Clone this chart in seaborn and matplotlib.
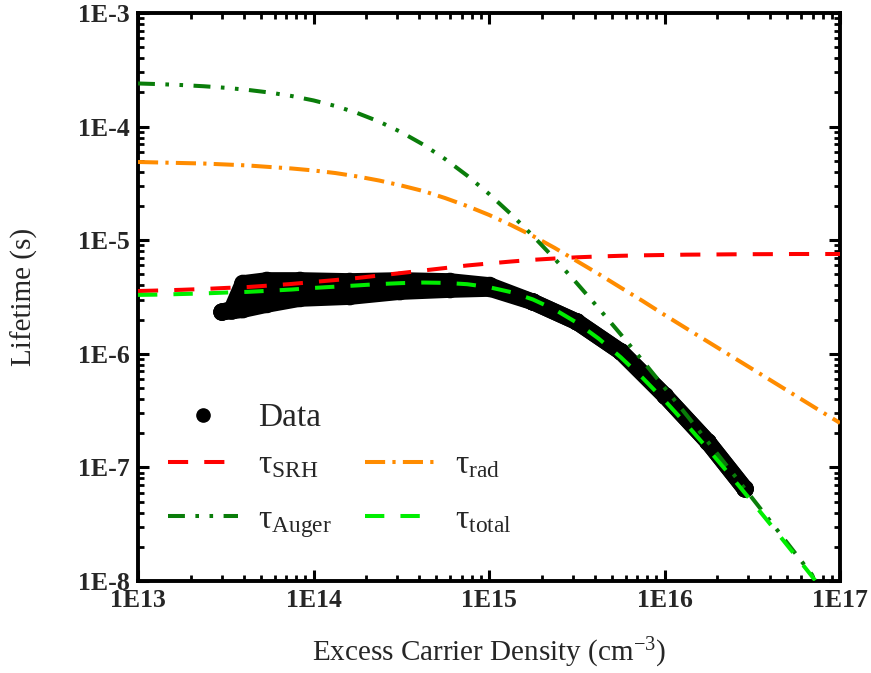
import numpy as np
import pandas as pd
import matplotlib
matplotlib.use("Agg")
import matplotlib.pyplot as plt
import seaborn as sns
from matplotlib.lines import Line2D
from matplotlib.ticker import LogLocator, FuncFormatter, NullFormatter

# ---------------- data ----------------
curve_x = [1.000e13, 1.334e13, 1.778e13, 2.371e13, 3.162e13, 4.217e13, 5.623e13, 7.499e13,
           1.000e14, 1.334e14, 1.778e14, 2.371e14, 3.162e14, 4.217e14, 5.623e14, 7.499e14,
           1.000e15, 1.334e15, 1.778e15, 2.371e15, 3.162e15, 4.217e15, 5.623e15, 7.499e15,
           1.000e16, 1.334e16, 1.778e16, 2.371e16, 3.162e16, 4.217e16, 5.623e16, 7.499e16,
           1.000e17]
tau_srh = [3.57e-6, 3.61e-6, 3.66e-6, 3.72e-6, 3.80e-6, 3.87e-6, 3.99e-6, 4.12e-6,
           4.29e-6, 4.46e-6, 4.65e-6, 4.89e-6, 5.14e-6, 5.41e-6, 5.69e-6, 5.99e-6,
           6.24e-6, 6.49e-6, 6.72e-6, 6.90e-6, 7.07e-6, 7.19e-6, 7.29e-6, 7.36e-6,
           7.41e-6, 7.46e-6, 7.48e-6, 7.51e-6, 7.53e-6, 7.54e-6, 7.56e-6, 7.56e-6,
           7.56e-6]
tau_rad = [4.88e-5, 4.83e-5, 4.78e-5, 4.73e-5, 4.64e-5, 4.55e-5, 4.41e-5, 4.28e-5,
           4.11e-5, 3.90e-5, 3.64e-5, 3.35e-5, 3.03e-5, 2.71e-5, 2.35e-5, 2.00e-5,
           1.67e-5, 1.36e-5, 1.09e-5, 8.54e-6, 6.56e-6, 5.04e-6, 3.83e-6, 2.92e-6,
           2.20e-6, 1.67e-6, 1.27e-6, 9.66e-7, 7.35e-7, 5.59e-7, 4.25e-7, 3.23e-7,
           2.46e-7]
tau_auger = [2.397e-4, 2.364e-4, 2.321e-4, 2.266e-4, 2.195e-4, 2.105e-4, 1.994e-4, 1.859e-4,
             1.700e-4, 1.517e-4, 1.316e-4, 1.105e-4, 8.93e-5, 6.95e-5, 5.18e-5, 3.71e-5,
             2.556e-5, 1.697e-5, 1.093e-5, 6.84e-6, 4.19e-6, 2.514e-6, 1.488e-6, 8.70e-7,
             5.04e-7, 2.896e-7, 1.658e-7, 9.45e-8, 5.36e-8, 3.04e-8, 1.718e-8, 9.70e-9,
             5.47e-9]
tau_total = [3.30e-6, 3.32e-6, 3.36e-6, 3.40e-6, 3.46e-6, 3.51e-6, 3.59e-6, 3.68e-6,
             3.80e-6, 3.90e-6, 4.00e-6, 4.11e-6, 4.19e-6, 4.24e-6, 4.21e-6, 4.10e-6,
             3.86e-6, 3.49e-6, 3.01e-6, 2.45e-6, 1.88e-6, 1.36e-6, 9.34e-7, 6.14e-7,
             3.89e-7, 2.39e-7, 1.438e-7, 8.51e-8, 4.96e-8, 2.87e-8, 1.648e-8, 9.41e-9,
             5.35e-9]

# measured lifetime: upper / lower edge of the point cloud (point centres)
data_x = [3.01e13, 3.43e13, 3.96e13, 5.43e13, 8.38e13, 1.61e14, 3.11e14, 6.00e14,
          1.01e15, 1.78e15, 3.17e15, 5.65e15, 1.01e16, 1.77e16, 2.88e16]
data_hi = [2.33e-6, 2.48e-6, 4.16e-6, 4.42e-6, 4.42e-6, 4.33e-6, 4.42e-6, 4.33e-6,
           3.99e-6, 2.86e-6, 1.91e-6, 1.04e-6, 4.25e-7, 1.67e-7, 6.46e-8]
data_lo = [2.33e-6, 2.38e-6, 2.45e-6, 2.72e-6, 3.07e-6, 3.19e-6, 3.53e-6, 3.68e-6,
           3.76e-6, 2.86e-6, 1.91e-6, 1.04e-6, 4.25e-7, 1.67e-7, 6.46e-8]

x_ticks = [1e13, 1e14, 1e15, 1e16, 1e17]
y_ticks = [1e-8, 1e-7, 1e-6, 1e-5, 1e-4, 1e-3]

# ---------------- style ----------------
sns.set_theme(style="ticks")
plt.rcParams["font.family"] = ["Liberation Serif", "DejaVu Serif"]
plt.rcParams["mathtext.fontset"] = "custom"
plt.rcParams["mathtext.rm"] = "Liberation Serif"
plt.rcParams["mathtext.it"] = "Liberation Serif:italic"
plt.rcParams["mathtext.bf"] = "Liberation Serif:bold"

fig = plt.figure(figsize=(8.71, 6.73), dpi=100)
ax = fig.add_axes([138 / 871, 1 - 581 / 673, (840 - 138) / 871, (581 - 13) / 673])

C_SRH = "#FF0000"
C_RAD = "#FF8C00"
C_AUG = "#0A7D0A"
C_TOT = "#00EE00"
LW = 2.9

# data cloud
df_data = pd.DataFrame({"x": data_x, "hi": data_hi, "lo": data_lo})
ax.fill_between(df_data["x"], df_data["lo"], df_data["hi"], color="black", lw=0, zorder=2)
for col in ["hi", "lo"]:
    sns.lineplot(data=df_data, x="x", y=col, ax=ax, color="black", linewidth=12,
                 solid_capstyle="round", solid_joinstyle="round", zorder=2, legend=False)
    sns.scatterplot(data=df_data, x="x", y=col, ax=ax, color="black", s=160,
                    edgecolor="none", zorder=2, legend=False)

curves = pd.DataFrame({"x": curve_x, "srh": tau_srh, "rad": tau_rad,
                       "aug": tau_auger, "tot": tau_total})
ls_srh = (0, (5.0, 4.0))
ls_rad = (0, (5.0, 1.8, 0.8, 1.8))
ls_aug = (0, (4.2, 2.6, 0.9, 2.6, 0.9, 2.6))
ls_tot = (0, (4.8, 4.0))
sns.lineplot(data=curves, x="x", y="srh", ax=ax, color=C_SRH, linewidth=LW,
             linestyle=ls_srh, zorder=3, legend=False)
sns.lineplot(data=curves, x="x", y="rad", ax=ax, color=C_RAD, linewidth=LW,
             linestyle=ls_rad, zorder=3, legend=False)
sns.lineplot(data=curves, x="x", y="aug", ax=ax, color=C_AUG, linewidth=LW,
             linestyle=ls_aug, zorder=4, legend=False)
sns.lineplot(data=curves, x="x", y="tot", ax=ax, color=C_TOT, linewidth=LW,
             linestyle=ls_tot, zorder=5, legend=False)

ax.set_xscale("log")
ax.set_yscale("log")
ax.set_xlim(1e13, 1e17)
ax.set_ylim(1e-8, 1e-3)

fmt = FuncFormatter(lambda v, p: "1E%d" % int(round(np.log10(v))))
ax.xaxis.set_minor_locator(LogLocator(base=10, subs=np.arange(2, 10), numticks=20))
ax.yaxis.set_minor_locator(LogLocator(base=10, subs=np.arange(2, 10), numticks=20))
ax.set_xticks(x_ticks)
ax.set_yticks(y_ticks)
ax.xaxis.set_major_formatter(fmt)
ax.yaxis.set_major_formatter(fmt)
ax.xaxis.set_minor_formatter(NullFormatter())
ax.yaxis.set_minor_formatter(NullFormatter())

ax.tick_params(which="both", direction="in", top=True, right=True, color="black")
ax.tick_params(which="major", length=8, width=2.2, pad=6, labelsize=18.5)
ax.tick_params(which="minor", length=4.5, width=2.0)
for lab in ax.get_xticklabels() + ax.get_yticklabels():
    lab.set_fontweight("bold")
for sp in ax.spines.values():
    sp.set_linewidth(2.8)
    sp.set_color("black")

ax.set_xlabel("Excess Carrier Density (cm$^{-3}$)", fontsize=21)
ax.set_ylabel("Lifetime (s)", fontsize=21)
ax.xaxis.set_label_coords(0.5, -0.097)
ax.yaxis.set_label_coords(-0.142, 0.5)

# ---------------- legends ----------------
h_data = [Line2D([], [], linestyle="none", marker="o", markersize=9.5,
                 color="black")]
leg1 = ax.legend(h_data, ["Data"], loc="center left", bbox_to_anchor=(0.0427, 0.287),
                 frameon=False, fontsize=24, handlelength=2.1, handletextpad=0.6,
                 borderpad=0, borderaxespad=0)
ax.add_artist(leg1)

h_tau = [Line2D([], [], color=C_SRH, lw=LW, linestyle=ls_srh),
         Line2D([], [], color=C_AUG, lw=LW, linestyle=ls_aug),
         Line2D([], [], color=C_RAD, lw=LW, linestyle=ls_rad),
         Line2D([], [], color=C_TOT, lw=LW, linestyle=ls_tot)]
lab_tau = [r"τ$_{\rm SRH}$", r"τ$_{\rm Auger}$", r"τ$_{\rm rad}$", r"τ$_{\rm total}$"]
leg2 = ax.legend(h_tau, lab_tau, ncol=2, loc="center left", bbox_to_anchor=(0.0427, 0.152),
                 frameon=False, fontsize=24, handlelength=2.1, handletextpad=0.6,
                 columnspacing=1.0, labelspacing=0.72, borderpad=0, borderaxespad=0)

fig.savefig("out.png", dpi=100)
